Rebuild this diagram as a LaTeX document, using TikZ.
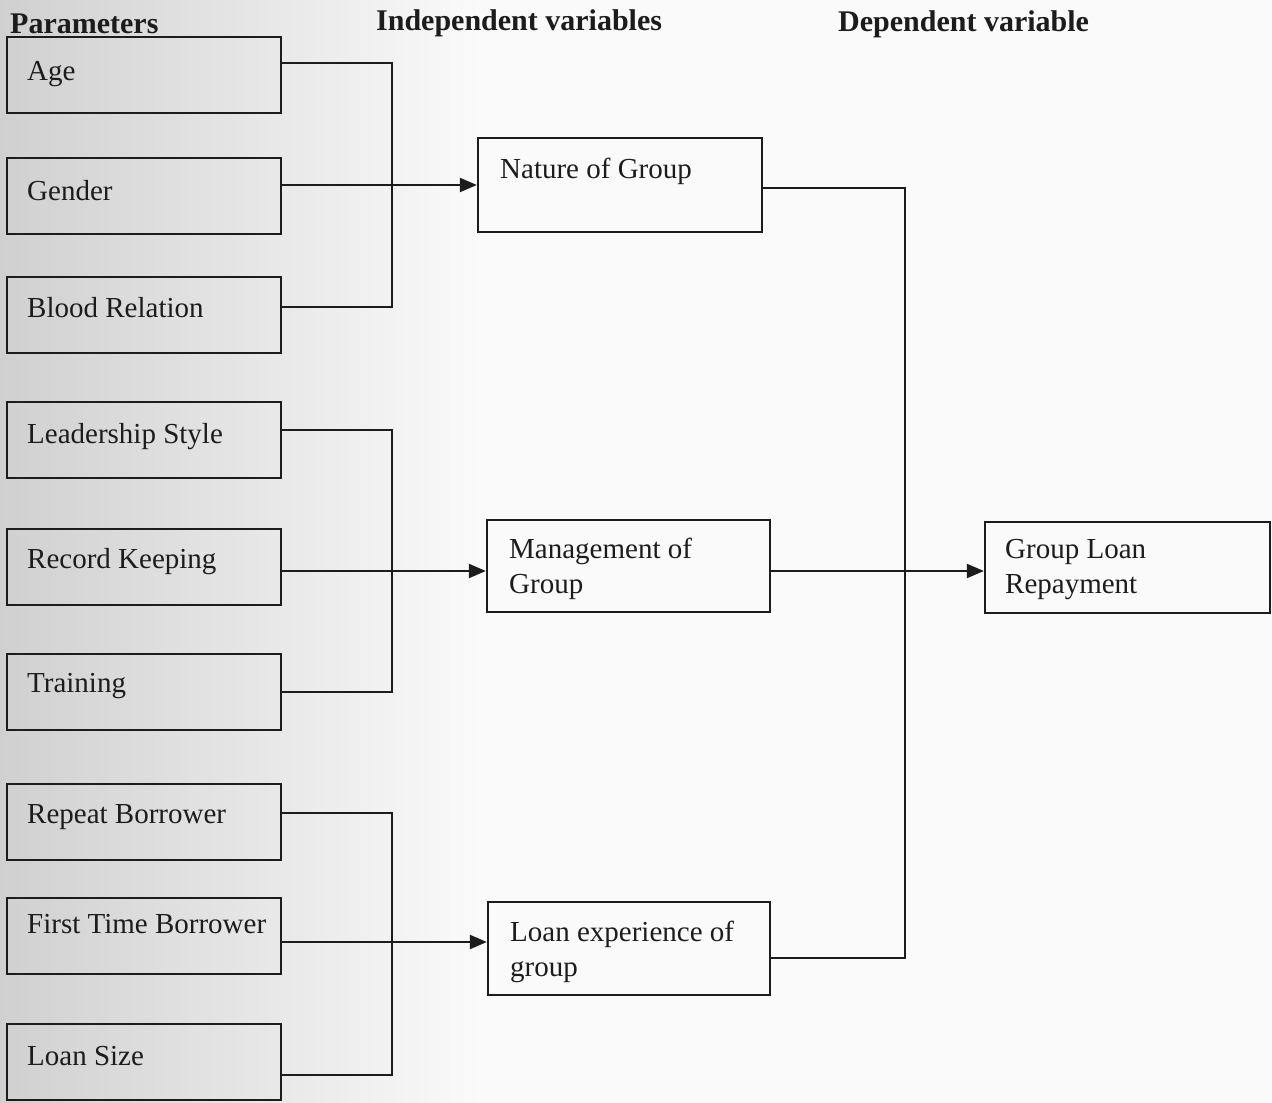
\documentclass[tikz,border=0pt]{standalone}
\usepackage{fontspec}
\setmainfont{Liberation Serif}
\usetikzlibrary{arrows.meta}
\definecolor{ink}{HTML}{1C1C1C}
\definecolor{pageA}{HTML}{D0D0D0}
\definecolor{pageB}{HTML}{FAFAFA}
\begin{document}
\begin{tikzpicture}[x=1pt,y=-1pt,
  lbox/.style={draw=ink,line width=2.5pt,minimum width=274pt,minimum height=76pt,inner sep=0pt},
  mbox/.style={draw=ink,line width=2.3pt,inner sep=0pt},
  txt/.style={font=\fontsize{29}{35}\selectfont,text=ink,inner sep=0pt,anchor=base west},
  mtxt/.style={font=\fontsize{29}{35}\selectfont,text=ink,inner sep=0pt,anchor=west,align=left},
  head/.style={font=\fontsize{30}{36}\selectfont\bfseries,text=ink,inner sep=0pt,anchor=base west},
  conn/.style={draw=ink,line width=2.1pt},
  arr/.style={conn,-{Triangle[length=17pt,width=14pt]}}]
\useasboundingbox (0,0) rectangle (1272,1103);
\fill[pageB] (0,0) rectangle (1272,1103);
\shade[left color=pageA,right color=pageB] (0,0) rectangle (480,1103);

% headers
\node[head] (hpar) at (10,33) {Parameters};
\node[head] (hind) at (376,30) {Independent variables};
\node[head] (hdep) at (838,31) {Dependent variable};

% left boxes
\node[lbox] (age)    at (144,75)  {};
\node[lbox] (gender) at (144,196) {};
\node[lbox] (blood)  at (144,315) {};
\node[lbox] (lead)   at (144,440) {};
\node[lbox] (record) at (144,567) {};
\node[lbox] (train)  at (144,692) {};
\node[lbox] (repeat) at (144,822) {};
\node[lbox] (first)  at (144,936) {};
\node[lbox] (lsize)  at (144,1062) {};

\node[txt] (tage)    at (27,80)   {Age};
\node[txt] (tgender) at (27,200)  {Gender};
\node[txt] (tblood)  at (27,317)  {Blood Relation};
\node[txt] (tlead)   at (27,443)  {Leadership Style};
\node[txt] (trecord) at (27,568)  {Record Keeping};
\node[txt] (ttrain)  at (27,692)  {Training};
\node[txt] (trepeat) at (27,823)  {Repeat Borrower};
\node[txt] (tfirst)  at (27,933)  {First Time Borrower};
\node[txt] (tlsize)  at (27,1065) {Loan Size};

% middle and right boxes
\node[mbox,minimum width=284pt,minimum height=94pt] (nature)  at (620,185) {};
\node[mbox,minimum width=283pt,minimum height=92pt] (mgmt)    at (628.5,566) {};
\node[mbox,minimum width=282pt,minimum height=93pt] (loanexp) at (629,948.5) {};
\node[mbox,minimum width=285pt,minimum height=91pt] (glr)     at (1127.5,567.5) {};

\node[txt]  (tnature)  at (500,178) {Nature of Group};
\node[mtxt] (tmgmt)    at (509,569) {Management of\\Group};
\node[mtxt] (tloanexp) at (510,952) {Loan experience of\\group};
\node[mtxt] (tglr)     at (1005,570) {Group Loan\\Repayment};

% group 1
\draw[conn] (age.east |- 0,63) -- (392,63) -- (392,307) -- (blood.east |- 0,307);
\draw[arr] (gender.east |- 0,185) -- (nature.west |- 0,185);
% group 2
\draw[conn] (lead.east |- 0,430) -- (392,430) -- (392,692) -- (train.east |- 0,692);
\draw[arr] (record.east |- 0,571) -- (mgmt.west |- 0,571);
% group 3
\draw[conn] (repeat.east |- 0,813) -- (392,813) -- (392,1075) -- (lsize.east |- 0,1075);
\draw[arr] (first.east |- 0,942) -- (loanexp.west |- 0,942);
% to dependent variable
\draw[conn] (nature.east |- 0,188) -- (905,188) -- (905,958) -- (loanexp.east |- 0,958);
\draw[arr] (mgmt.east |- 0,571) -- (glr.west |- 0,571);
\end{tikzpicture}
\end{document}
